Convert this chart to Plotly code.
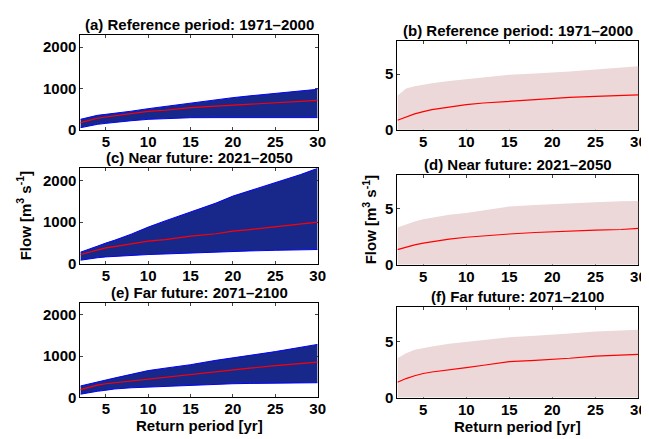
import plotly.graph_objects as go

W, H = 649, 439

# return periods [yr]
rp = [2, 3, 4, 5, 6, 8, 10, 12, 15, 18, 20, 22, 25, 28, 30]

# left column: flow [m3 s-1], ensemble spread (lower/upper) and median
a_low = [56, 105, 137, 161, 185, 225, 258, 280, 298, 300, 300, 300, 300, 300, 300]
a_up = [258, 310, 355, 379, 400, 455, 516, 570, 661, 735, 782, 825, 887, 945, 984]
a_med = [177, 240, 285, 315, 345, 400, 452, 478, 540, 575, 597, 625, 661, 695, 718]

c_low = [81, 115, 140, 161, 175, 200, 218, 232, 258, 280, 298, 305, 320, 330, 339]
c_up = [274, 340, 420, 495, 560, 710, 880, 1030, 1242, 1460, 1629, 1760, 1968, 2150, 2300]
c_med = [218, 270, 320, 379, 410, 480, 540, 580, 661, 720, 782, 820, 887, 950, 1000]

e_low = [79, 120, 150, 175, 205, 235, 254, 270, 302, 320, 333, 340, 350, 355, 357]
e_up = [278, 330, 380, 420, 470, 560, 651, 710, 794, 900, 968, 1020, 1111, 1220, 1286]
e_med = [190, 250, 300, 333, 355, 400, 460, 490, 556, 630, 675, 710, 770, 820, 857]

# right column
b_low = [0.03] * 15
b_up = [3.07, 3.72, 3.92, 4.06, 4.18, 4.40, 4.57, 4.72, 4.94, 5.06, 5.14, 5.25, 5.43, 5.60, 5.71]
b_med = [0.88, 1.20, 1.45, 1.65, 1.82, 2.05, 2.27, 2.42, 2.59, 2.75, 2.87, 2.92, 3.01, 3.10, 3.15]

d_low = [0.03] * 15
d_up = [3.32, 3.62, 3.85, 4.05, 4.20, 4.45, 4.62, 4.85, 5.20, 5.32, 5.40, 5.47, 5.58, 5.65, 5.69]
d_med = [1.36, 1.60, 1.78, 1.94, 2.08, 2.30, 2.46, 2.60, 2.75, 2.88, 2.95, 3.00, 3.09, 3.15, 3.24]

f_low = [0.03] * 15
f_up = [3.49, 3.95, 4.25, 4.42, 4.55, 4.78, 4.94, 5.12, 5.35, 5.50, 5.58, 5.70, 5.87, 5.97, 6.02]
f_med = [1.37, 1.70, 1.95, 2.15, 2.28, 2.45, 2.67, 2.88, 3.20, 3.32, 3.40, 3.50, 3.69, 3.78, 3.84]

titles = ['(a) Reference period: 1971\u20132000', '(b) Reference period: 1971\u20132000',
          '(c) Near future: 2021\u20132050', '(d) Near future: 2021\u20132050',
          '(e) Far future: 2071\u20132100', '(f) Far future: 2071\u20132100']

panels = [
    (a_low, a_up, a_med), (b_low, b_up, b_med),
    (c_low, c_up, c_med), (d_low, d_up, d_med),
    (e_low, e_up, e_med), (f_low, f_up, f_med),
]

# pixel boxes (left, right, top, bottom)
boxes = [
    (73.3, 313.5, 27.3, 124.3), (394.3, 638.3, 33.3, 124.3),
    (73.3, 313.5, 163.3, 260.3), (394.3, 638.3, 170.0, 261.7),
    (73.3, 313.5, 300.0, 396.7), (394.3, 638.3, 305.0, 397.0),
]

FONT = 'Liberation Sans, Arial, sans-serif'
FS = 15
NAVY = 'rgb(24,40,138)'
PINK = 'rgb(236,216,216)'
bold = dict(size=FS, family=FONT, color='black', weight='bold')

fig = go.Figure()
layout = {}

for i, ((lo, up, med), (l, r, t, b)) in enumerate(zip(panels, boxes)):
    n = i + 1
    xa = 'x' if n == 1 else 'x%d' % n
    ya = 'y' if n == 1 else 'y%d' % n
    left_col = (i % 2 == 0)

    if left_col:
        fig.add_trace(go.Scatter(x=rp, y=lo, mode='lines', line=dict(color='blue', width=1),
                                 xaxis=xa, yaxis=ya, showlegend=False, hoverinfo='skip'))
        fig.add_trace(go.Scatter(x=rp, y=up, mode='lines', line=dict(color='blue', width=1),
                                 fill='tonexty', fillcolor=NAVY,
                                 xaxis=xa, yaxis=ya, showlegend=False, hoverinfo='skip'))
    else:
        fig.add_trace(go.Scatter(x=rp, y=lo, mode='lines', line=dict(color=PINK, width=0),
                                 xaxis=xa, yaxis=ya, showlegend=False, hoverinfo='skip'))
        fig.add_trace(go.Scatter(x=rp, y=up, mode='lines', line=dict(color=PINK, width=0),
                                 fill='tonexty', fillcolor=PINK,
                                 xaxis=xa, yaxis=ya, showlegend=False, hoverinfo='skip'))
    fig.add_trace(go.Scatter(x=rp, y=med, mode='lines', line=dict(color='red', width=1.2),
                             xaxis=xa, yaxis=ya, showlegend=False))

    xkey = 'xaxis' if n == 1 else 'xaxis%d' % n
    ykey = 'yaxis' if n == 1 else 'yaxis%d' % n
    layout[xkey] = dict(
        domain=[l / W, r / W], anchor=ya, range=[2, 30],
        tickvals=[5, 10, 15, 20, 25, 30], ticks='inside', ticklen=3,
        ticklabelstandoff=-2, ticklabeloverflow='allow',
        showline=True, linecolor='black', linewidth=1, mirror='ticks',
        showgrid=False, zeroline=False, layer='below traces',
        tickfont=bold,
    )
    layout[ykey] = dict(
        domain=[1 - b / H, 1 - t / H], anchor=xa,
        range=[0, 2300] if left_col else [0, 8],
        tickvals=[0, 1000, 2000] if left_col else [0, 5],
        ticks='inside', ticklen=3,
        showline=True, linecolor='black', linewidth=1, mirror='ticks',
        showgrid=False, zeroline=False, layer='below traces',
        tickfont=bold,
    )

    fig.add_annotation(text=titles[i], xref=xa + ' domain', yref=ya + ' domain',
                       x=0.5, y=1, yanchor='bottom', xanchor='center', yshift=0,
                       showarrow=False, font=bold)

# axis labels
for n in (3, 4):
    fig.add_annotation(text='Flow [m<sup>3</sup> s<sup>-1</sup>]',
                       xref='x%d domain' % n, yref='y%d domain' % n,
                       x=0, y=0.5, xanchor='center', yanchor='middle',
                       xshift=-56 if n == 3 else -28, textangle=-90, showarrow=False,
                       font=bold)
for n in (5, 6):
    fig.add_annotation(text='Return period [yr]',
                       xref='x%d domain' % n, yref='y%d domain' % n,
                       x=0.5, y=0, xanchor='center', yanchor='top', yshift=-18,
                       showarrow=False, font=bold)

fig.update_layout(
    width=W, height=H,
    margin=dict(l=0, r=0, t=0, b=0),
    plot_bgcolor='white', paper_bgcolor='white',
    font=dict(family=FONT, size=FS, color='black'),
    showlegend=False,
    **layout
)

fig.write_html("out.html")
